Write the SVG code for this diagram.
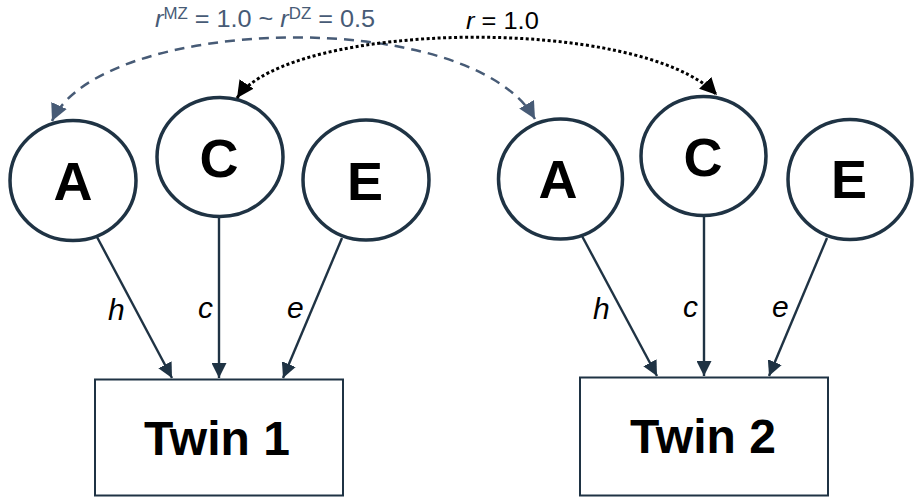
<svg xmlns="http://www.w3.org/2000/svg" width="914" height="498" viewBox="0 0 914 498">
<style>
.node{fill:#fff;stroke:#1f3344;stroke-width:3.5}
.box{fill:#fff;stroke:#1f3344;stroke-width:2}
.lt{font-family:"Liberation Sans",Arial,sans-serif;font-weight:bold;font-size:54px;fill:#000;text-anchor:middle}
.tw{font-family:"Liberation Sans",Arial,sans-serif;font-weight:bold;font-size:48px;fill:#000;text-anchor:middle}
.pl{font-family:"Liberation Sans",Arial,sans-serif;font-style:italic;font-size:30px;fill:#000}
.edge{stroke:#1f3344;stroke-width:2.4;fill:none;marker-end:url(#ah)}
.top{font-family:"Liberation Sans",Arial,sans-serif;font-size:24px}
</style>
<defs>
<marker id="ah" markerUnits="userSpaceOnUse" markerWidth="15" markerHeight="15" refX="15" refY="7.5" orient="auto"><path d="M0,0 L15,7.5 L0,15 z" fill="#1f3344"/></marker>
<marker id="ahd" markerUnits="userSpaceOnUse" markerWidth="18" markerHeight="18" refX="17" refY="8.5" orient="auto-start-reverse"><path d="M0,0 L17,8.5 L0,17 z" fill="#475b76"/></marker>
<marker id="ahk" markerUnits="userSpaceOnUse" markerWidth="18" markerHeight="18" refX="17" refY="8.5" orient="auto-start-reverse"><path d="M0,0 L17,8.5 L0,17 z" fill="#000"/></marker>
</defs>
<g id="A1"><ellipse class="node" cx="73" cy="180.5" rx="63" ry="60"/><text class="lt" x="73" y="200">A</text></g>
<g id="C1"><ellipse class="node" cx="220" cy="157" rx="63" ry="59.5"/><text class="lt" x="219" y="177">C</text></g>
<g id="E1"><ellipse class="node" cx="366" cy="180" rx="63" ry="60"/><text class="lt" x="365" y="200">E</text></g>
<g id="A2"><ellipse class="node" cx="560.5" cy="179" rx="62" ry="60"/><text class="lt" x="558" y="198">A</text></g>
<g id="C2"><ellipse class="node" cx="703.5" cy="156" rx="62.5" ry="59.5"/><text class="lt" x="703" y="176">C</text></g>
<g id="E2"><ellipse class="node" cx="850" cy="179.5" rx="62" ry="60"/><text class="lt" x="849" y="198">E</text></g>
<g id="Twin1"><rect class="box" x="95" y="379.5" width="248" height="116"/><text class="tw" x="217" y="455">Twin 1</text></g>
<g id="Twin2"><rect class="box" x="580" y="377.5" width="248" height="118"/><text class="tw" x="703" y="453">Twin 2</text></g>
<g id="connectors">
<path class="edge" d="M97,237 L172,378"/>
<path class="edge" d="M219,218 L219,378"/>
<path class="edge" d="M342,238 L283,378"/>
<path class="edge" d="M582,236 L657,376"/>
<path class="edge" d="M704,217 L704,376"/>
<path class="edge" d="M827,238 L769,376"/>
<path d="M535,119 C470,5 100,15 52,121" fill="none" stroke="#475b76" stroke-width="2.5" stroke-dasharray="10 7" marker-start="url(#ahd)" marker-end="url(#ahd)"/>
<path d="M237,98 C290,20 640,15 717,95" fill="none" stroke="#000" stroke-width="3" stroke-dasharray="3 2.5" marker-start="url(#ahk)" marker-end="url(#ahk)"/>
</g>
<g id="labels">
<text class="pl" x="108" y="320">h</text>
<text class="pl" x="198" y="318">c</text>
<text class="pl" x="287" y="318">e</text>
<text class="pl" x="593" y="319">h</text>
<text class="pl" x="683" y="317">c</text>
<text class="pl" x="772" y="317">e</text>
<g transform="translate(155,27) scale(1.052,1)"><text class="top" x="0" y="0" fill="#475b76"><tspan font-style="italic">r</tspan><tspan font-size="16" dy="-8">MZ</tspan><tspan dy="8"> = 1.0 ~ </tspan><tspan font-style="italic">r</tspan><tspan font-size="16" dy="-8">DZ</tspan><tspan dy="8"> = 0.5</tspan></text></g>
<g transform="translate(466,28.5) scale(1.06,1)"><text class="top" x="0" y="0" fill="#000"><tspan font-style="italic">r</tspan> = 1.0</text></g>
</g>
</svg>
